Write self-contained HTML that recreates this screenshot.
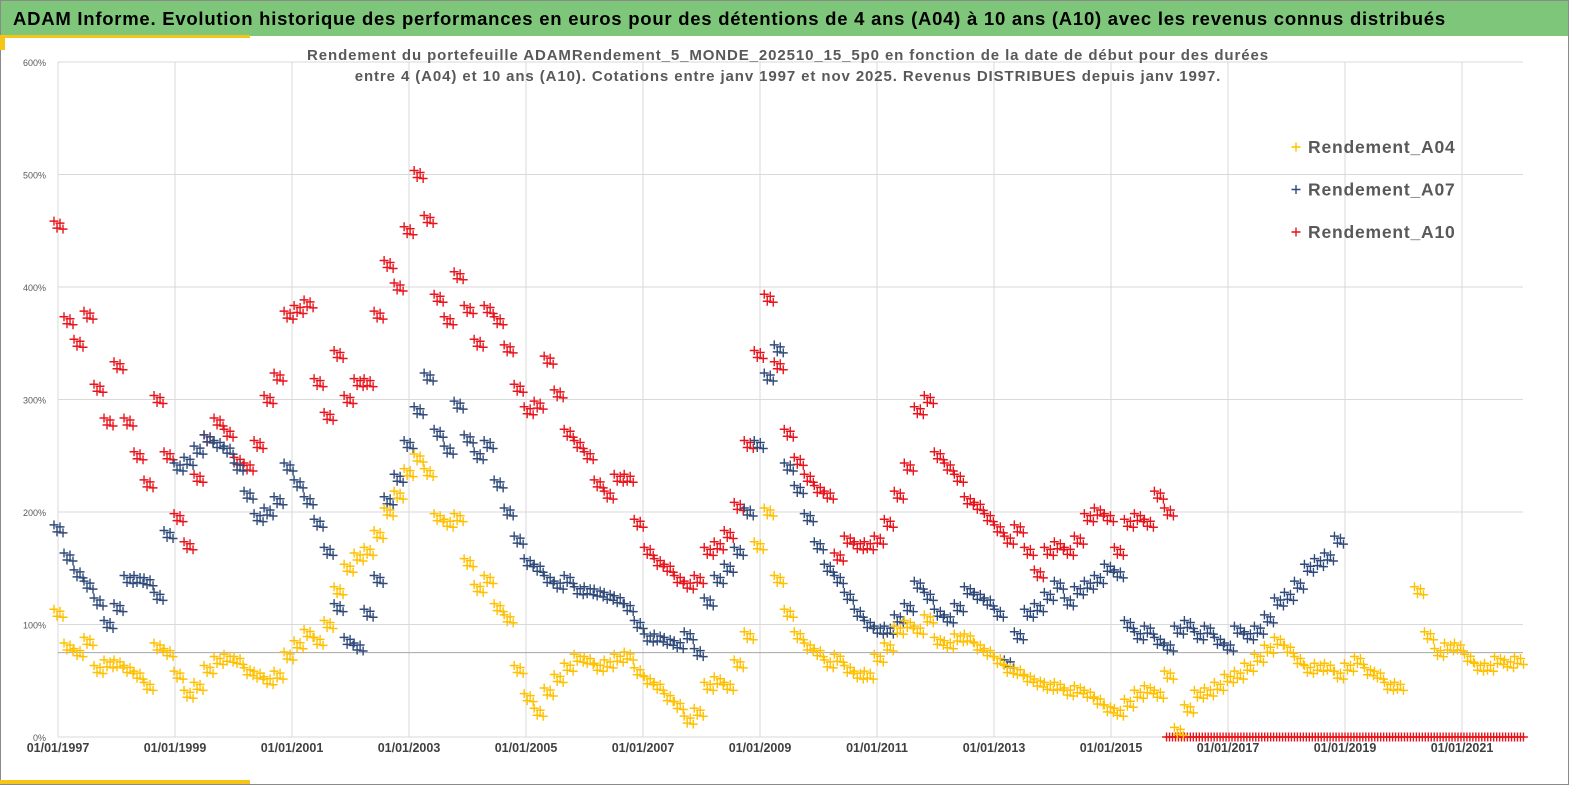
<!DOCTYPE html>
<html><head><meta charset="utf-8">
<style>
body{margin:0;width:1569px;height:785px;overflow:hidden;background:#fff;font-family:"Liberation Sans",sans-serif;}
#wrap{position:absolute;left:0;top:0;width:1567px;height:783px;border:1px solid #8a8a8a;}
#hdr{position:absolute;left:0;top:0;width:1567px;height:35px;background:#7ec77a;}
#hdr span{position:absolute;left:12px;top:7px;font-size:18.5px;letter-spacing:0.75px;font-weight:bold;color:#000;white-space:nowrap;}
</style></head><body>
<div id="wrap">
<div id="hdr"><span>ADAM Informe. Evolution historique des performances en euros pour des détentions de 4 ans (A04) à 10 ans (A10) avec les revenus connus distribués</span></div>
</div>
<svg id="chart" width="1569" height="785" style="position:absolute;left:0;top:0"></svg>
<script>
const startYear = 1997.0;
const stepYears = 0.171;
const yTicks = [0,100,200,300,400,500,600];
const xTickYears = [1997,1999,2001,2003,2005,2007,2009,2011,2013,2015,2017,2019,2021];
const seriesNames = ["Rendement_A04","Rendement_A07","Rendement_A10"];
const a04 = [110,80,75,85,60,65,65,60,55,45,80,75,55,38,45,60,68,70,68,58,55,50,55,72,82,92,85,100,130,150,160,165,180,200,215,235,248,235,195,190,195,155,132,140,115,105,60,35,22,40,52,62,70,68,62,65,70,72,58,50,45,35,28,15,22,45,50,45,65,90,170,200,140,110,90,80,75,65,70,60,55,55,70,80,95,100,95,105,85,82,88,88,80,75,68,60,58,52,48,45,45,40,42,38,32,25,22,30,38,42,38,55,5,25,38,40,45,52,55,62,70,78,85,78,68,60,62,62,55,62,68,58,55,45,45,null,130,90,75,80,80,70,62,62,68,65,68];
const a07 = [185,160,145,135,120,100,115,140,140,138,125,180,240,245,255,265,260,255,240,215,195,200,210,240,225,210,190,165,115,85,80,110,140,210,230,260,290,320,270,255,295,265,250,260,225,200,175,155,150,140,135,140,130,130,128,125,122,115,100,88,88,85,82,90,75,120,140,150,165,200,260,320,345,240,220,195,170,150,140,125,110,100,95,95,105,115,135,125,110,105,115,130,125,120,110,65,90,110,115,125,135,120,130,135,140,150,145,100,90,95,85,80,95,100,90,95,85,80,95,90,95,105,120,125,135,150,155,160,175];
const a10 = [455,370,350,375,310,280,330,280,250,225,300,250,195,170,230,265,280,270,245,240,260,300,320,375,380,385,315,285,340,300,315,315,375,420,400,450,500,460,390,370,410,380,350,380,370,345,310,290,295,335,305,270,260,250,225,215,230,230,190,165,155,150,140,135,140,165,170,180,205,260,340,390,330,270,245,230,220,215,160,175,170,170,175,190,215,240,290,300,250,240,230,210,205,195,185,175,185,165,145,165,170,165,175,195,200,195,165,190,195,190,215,200];
const a10ZeroStart = 2015.95, a10ZeroEnd = 2022.05, a10ZeroCount = 120;
const a10Zeros = [0];

const NS="http://www.w3.org/2000/svg";
const svg=document.getElementById('chart');
const X0=58, PXY=58.5, Y0=737, PXV=1.125;
function xs(yr){return X0+(yr-1997)*PXY;}
function ys(v){return Y0-v*PXV;}
function mk(tag,attrs){const e=document.createElementNS(NS,tag);for(const k in attrs)e.setAttribute(k,attrs[k]);svg.appendChild(e);return e;}

yTicks.forEach(v=>{
  const l=mk('line',{x1:58,x2:1523,y1:ys(v),y2:ys(v),stroke:'#d9d9d9','stroke-width':1});
  
  
  const t=mk('text',{x:46,y:ys(v)+4,'text-anchor':'end','font-size':9,fill:'#595959'});
  t.textContent=v+'%';
  
  
});
xTickYears.forEach(y=>{
  const l=mk('line',{x1:xs(y),x2:xs(y),y1:62,y2:737,stroke:'#d9d9d9','stroke-width':1});
  
  
  const t=mk('text',{x:xs(y),y:752,'text-anchor':'middle','font-size':12.5,'font-weight':'bold',fill:'#404040'});
  t.textContent='01/01/'+y;
  
  
});
const ref=mk('line',{x1:58,x2:1523,y1:ys(75),y2:ys(75),stroke:'#a6a6a6','stroke-width':1});



function plus(x,y,c,name){
  const p=mk('path',{d:`M${x-4.5},${y}H${x+4.5}M${x},${y-4.5}V${y+4.5}`,stroke:c,'stroke-width':1.4});
  
  
}
const clusterDx=[-4,-1,2,5], clusterDy=[-4,3,-2,4];
function series(arr,c,name){
  arr.forEach((v,i)=>{ if(v===null)return;
    const yr=startYear+i*stepYears;
    for(let j=0;j<4;j++) plus(xs(yr)+clusterDx[j],ys(v)+clusterDy[j],c,name);
  });
}
series(a10,'#e8141c','point-a10');
for(let i=0;i<=a10ZeroCount;i++){
  const yr=a10ZeroStart+(a10ZeroEnd-a10ZeroStart)*i/a10ZeroCount;
  plus(xs(yr),ys(a10Zeros[0]),'#e8141c','point-a10-zero');
}
series(a07,'#2f4a7a','point-a07');
series(a04,'#ffc000','point-a04');

[['Rendement du portefeuille ADAMRendement_5_MONDE_202510_15_5p0  en fonction de la date de début pour des durées',60],['entre 4 (A04)  et 10 ans (A10). Cotations  entre janv 1997 et nov 2025. Revenus DISTRIBUES depuis janv 1997.',81]].forEach(([s,y])=>{
  const t=mk('text',{x:788,y:y,'text-anchor':'middle','font-size':15,'letter-spacing':'0.9','font-weight':'bold',fill:'#595959'});
  t.textContent=s;
  
  
});
const legCol=['#ffc000','#2f4a7a','#e8141c'];
seriesNames.forEach((n,i)=>{
  const y=147+i*42.5;
  plus(1296,y,legCol[i],'legend-marker');
  const t=mk('text',{x:1308,y:y+6,'font-size':17.5,'letter-spacing':'0.8','font-weight':'bold',fill:'#595959'});
  t.textContent=n;
  
  
});
const a1=mk('rect',{x:0,y:35,width:250,height:3,fill:'#f5c518'});


const a2=mk('rect',{x:0,y:35,width:5,height:15,fill:'#f5c518'});


const a3=mk('rect',{x:0,y:780,width:250,height:4,fill:'#f5c518'});


</script>
</body></html>
